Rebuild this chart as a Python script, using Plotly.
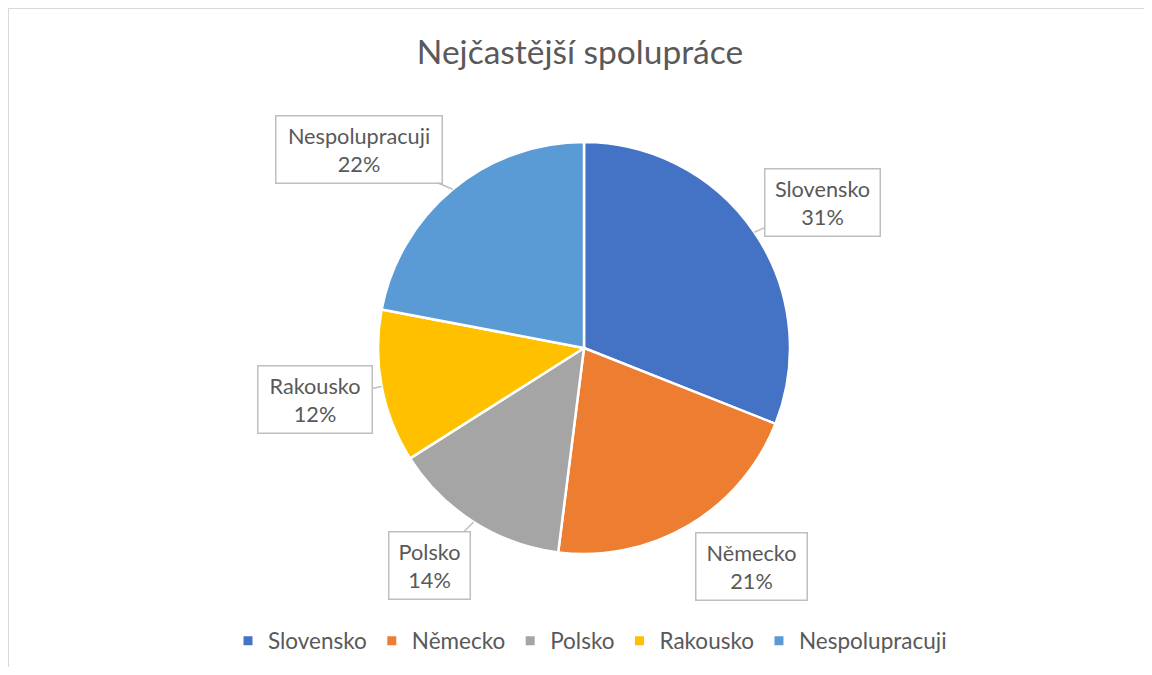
import math
import plotly.graph_objects as go

categories = ["Slovensko", "Německo", "Polsko", "Rakousko", "Nespolupracuji"]
values = [31, 21, 14, 12, 22]
colors = ["#4472C4", "#ED7D31", "#A5A5A5", "#FFC000", "#5B9BD5"]
title_text = "Nejčastější spolupráce"

W, H = 1136, 659
CX, CY, R = 576, 340, 206  # pie centre / radius in px (layout; page has 8px body margin)
FONT = "Lato, Open Sans, sans-serif"
TXT = "#595959"


def px_x(x):
    return x / W


def px_y(y):
    return 1 - y / H


# callout box offsets (pixels, from the slice-edge anchor) and text widths — layout only
label_offsets = [(68, -30), (63, 41), (-44, 44), (-67, 13), (-94, -40)]
label_widths = [102, 98, 68, 101, 153]

fig = go.Figure()
fig.add_trace(go.Pie(
    labels=categories, values=values, sort=False, direction="clockwise", rotation=0,
    marker=dict(colors=colors, line=dict(color="white", width=2.5)),
    textinfo="none", hoverinfo="label+percent", showlegend=False,
    domain=dict(x=[px_x(CX - R), px_x(CX + R)], y=[px_y(CY + R), px_y(CY - R)]),
))

# legend entries as square markers
for c, col in zip(categories, colors):
    fig.add_trace(go.Scatter(x=[None], y=[None], mode="markers", name=c,
                             marker=dict(symbol="square", size=9, color=col)))

total = sum(values)
cum = 0
annotations = []
for c, v, (ax, ay), w in zip(categories, values, label_offsets, label_widths):
    mid = (cum + v / 2) / total * 2 * math.pi
    cum += v
    px = CX + R * math.sin(mid)
    py = CY - R * math.cos(mid)
    pct = round(v / total * 100)
    annotations.append(dict(
        x=px_x(px), y=px_y(py), xref="paper", yref="paper",
        text=f"{c}<br>{pct}%", showarrow=True, arrowhead=0, arrowwidth=1.5,
        arrowcolor="#BFBFBF", ax=ax, ay=ay, standoff=0,
        bgcolor="white", bordercolor="#BFBFBF", borderwidth=1.5, borderpad=6,
        width=w, align="center",
        font=dict(family=FONT, size=21.7, color=TXT),
    ))

fig.update_layout(
    width=W, height=H,
    margin=dict(l=0, r=0, t=0, b=0),
    paper_bgcolor="white", plot_bgcolor="white",
    title=dict(text=title_text, x=px_x(572), xanchor="center", y=px_y(44), yanchor="middle",
               font=dict(family=FONT, size=33.5, color=TXT)),
    xaxis=dict(visible=False), yaxis=dict(visible=False),
    legend=dict(orientation="h", x=px_x(582), xanchor="center", y=px_y(633), yanchor="middle",
                font=dict(family=FONT, size=22.5, color=TXT), itemwidth=30,
                bgcolor="rgba(0,0,0,0)"),
    annotations=annotations,
    shapes=[
        dict(type="line", xref="paper", yref="paper", x0=0, x1=1, y0=1, y1=1,
             line=dict(color="#D9D9D9", width=2), layer="below"),
        dict(type="line", xref="paper", yref="paper", x0=0, x1=0, y0=0, y1=1,
             line=dict(color="#D9D9D9", width=2), layer="below"),
    ],
)

fig.write_html("out.html", post_script="document.body.style.overflow='hidden';")
